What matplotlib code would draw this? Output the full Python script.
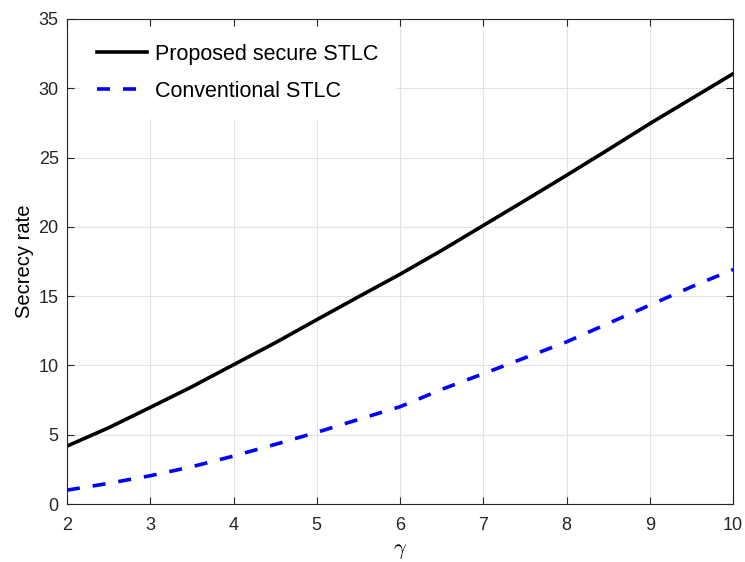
import matplotlib.pyplot as plt
import numpy as np

plt.rcParams['font.family'] = ['Liberation Sans', 'DejaVu Sans']
plt.rcParams['mathtext.fontset'] = 'cm'

# gamma values
gamma = [2, 2.5, 3, 3.5, 4, 4.5, 5, 5.5, 6, 6.5, 7, 7.5, 8, 8.5, 9, 9.5, 10]

# secrecy rates
proposed = [4.18, 5.5, 6.97, 8.46, 10.05, 11.63, 13.3, 14.95, 16.58,
            18.3, 20.1, 21.9, 23.72, 25.57, 27.45, 29.25, 31.05]
conventional = [1.0, 1.49, 2.04, 2.69, 3.46, 4.3, 5.17, 6.1, 7.02,
                8.27, 9.4, 10.55, 11.7, 13.03, 14.35, 15.67, 16.92]

fig = plt.figure(figsize=(7.45, 5.62), dpi=100)
ax = fig.add_axes([0.0899, 0.1032, 0.8941, 0.863])

ax.plot(gamma, proposed, '-', color='black', linewidth=2.6,
        label='Proposed secure STLC')
ax.plot(gamma, conventional, '--', color='blue', linewidth=2.6,
        dashes=(3.6, 3.6), label='Conventional STLC')

ax.set_xlim(2, 10)
ax.set_ylim(0, 35)
ax.set_xticks(np.arange(2, 11, 1))
ax.set_yticks(np.arange(0, 36, 5))

ax.grid(True, color='#e3e3e3', linewidth=0.8)
ax.set_axisbelow(True)
for s in ax.spines.values():
    s.set_color('#262626')
    s.set_linewidth(0.8)
ax.tick_params(direction='in', top=True, right=True, length=5,
               labelsize=13, colors='#262626', pad=6)
ax.tick_params(axis='x', pad=9.5)

ax.set_xlabel(r'$\gamma$', fontsize=16, labelpad=4)
ax.set_ylabel('Secrecy rate', fontsize=14.5, labelpad=3)

# white legend box hides the grid behind it
leg = ax.legend(loc='upper left', bbox_to_anchor=(0.0195, 0.984),
                frameon=True, fancybox=False, facecolor='white',
                edgecolor='none', framealpha=1.0,
                fontsize=15.5, handlelength=2.33, handletextpad=0.37,
                labelspacing=0.74, borderpad=0.8, borderaxespad=0)

fig.savefig('out.png', dpi=100)
